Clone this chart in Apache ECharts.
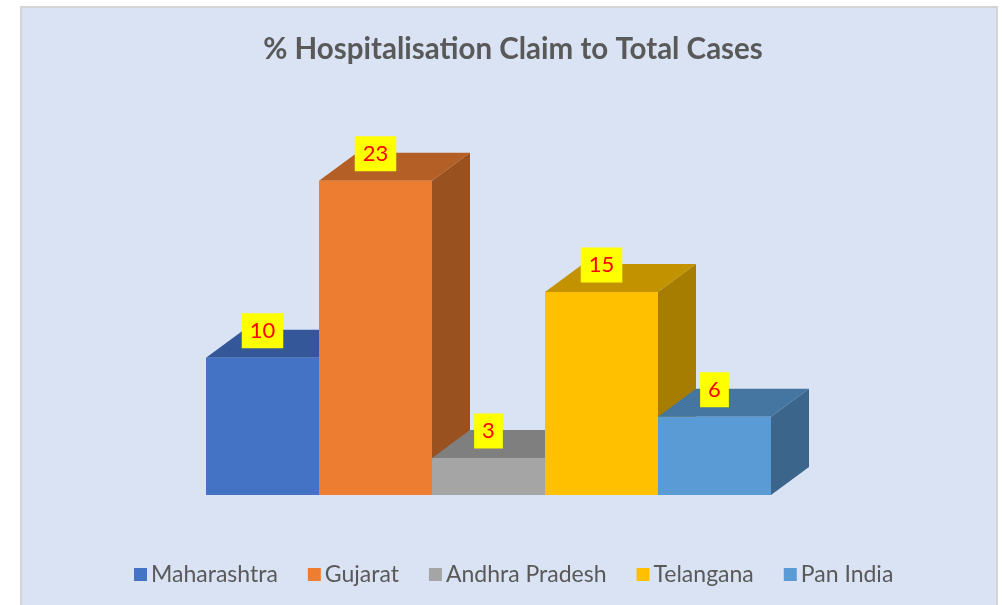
<!DOCTYPE html>
<html>
<head>
<meta charset="utf-8">
<script src="https://cdn.jsdelivr.net/npm/echarts@6/dist/echarts.min.js"></script>
<style>
  html, body { margin: 0; padding: 0; background: #fff; }
  #chart { width: 1002px; height: 605px; }
</style>
</head>
<body>
<div id="chart"></div>
<script>
var states = ['Maharashtra', 'Gujarat', 'Andhra Pradesh', 'Telangana', 'Pan India'];
var claimPct = [10, 22.9, 2.7, 14.8, 5.7];
var frontColors = ['#4472C4', '#ED7D31', '#A5A5A5', '#FFC000', '#5B9BD5'];
var topColors = ['#34579A', '#B45F25', '#7F7F7F', '#C29200', '#4576A2'];
var sideColors = ['#2C4A80', '#9A5120', '#6B6B6B', '#A67D00', '#3B658A'];

// 假 3D 柱子，每个系列只画自己那一格
var chart = echarts.init(document.getElementById('chart'));
var DX = 38, DY = -28;

function makeRender(idx) {
    return function (params, api) {
        var cat = api.value(0);
        var val = api.value(1);
        var base = api.coord([cat, 0]);
        var top = api.coord([cat, val]);
        var w = api.size([1, 0])[0];
        var x0 = base[0] - w / 2, x1 = base[0] + w / 2;
        var yb = base[1], yt = top[1];
        return {
            type: 'group',
            children: [
                {
                    type: 'polygon',
                    shape: { points: [[x1, yt], [x1 + DX, yt + DY], [x1 + DX, yb + DY], [x1, yb]] },
                    style: { fill: sideColors[idx] }
                },
                {
                    type: 'polygon',
                    shape: { points: [[x0, yt], [x1, yt], [x1 + DX, yt + DY], [x0 + DX, yt + DY]] },
                    style: { fill: topColors[idx] }
                },
                {
                    type: 'rect',
                    shape: { x: x0, y: yt, width: w, height: yb - yt },
                    style: { fill: frontColors[idx] }
                },
                {
                    type: 'text',
                    z2: 100,
                    x: base[0],
                    y: yt - 27,
                    style: {
                        text: String(Math.round(val)),
                        fill: '#FF0000',
                        backgroundColor: '#FFFF00',
                        padding: [7, 8, 6, 8],
                        font: '22px Lato',
                        align: 'center',
                        verticalAlign: 'middle'
                    }
                }
            ]
        };
    };
}

var seriesList = [];
for (var i = 0; i < states.length; i++) {
    seriesList.push({
        name: states[i],
        type: 'custom',
        renderItem: makeRender(i),
        itemStyle: { color: frontColors[i] },
        encode: { x: 0, y: 1 },
        data: [[i, claimPct[i]]]
    });
}

chart.setOption({
    backgroundColor: '#ffffff',
    animation: false,
    graphic: [{
        type: 'rect',
        z: -10,
        shape: { x: 21, y: 7, width: 976, height: 610 },
        style: { fill: '#DAE3F3', stroke: '#D4D4D4', lineWidth: 2 }
    }],
    title: {
        text: '% Hospitalisation Claim to Total Cases',
        left: 508,
        textAlign: 'center',
        top: 29,
        textStyle: { fontFamily: 'Lato', fontWeight: 'bold', fontSize: 29.5, color: '#595959' }
    },
    legend: {
        left: 129,
        top: 558,
        itemWidth: 13,
        itemHeight: 13,
        itemGap: 30,
        icon: 'rect',
        textStyle: { fontFamily: 'Lato', fontSize: 23, color: '#595959', padding: [0, 0, 0, -1] },
        data: states
    },
    grid: { left: 206, right: 231, top: 152, bottom: 110 },
    xAxis: { type: 'category', data: states, show: false },
    yAxis: { type: 'value', min: 0, max: 25, show: false },
    series: seriesList
});
</script>
</body>
</html>
